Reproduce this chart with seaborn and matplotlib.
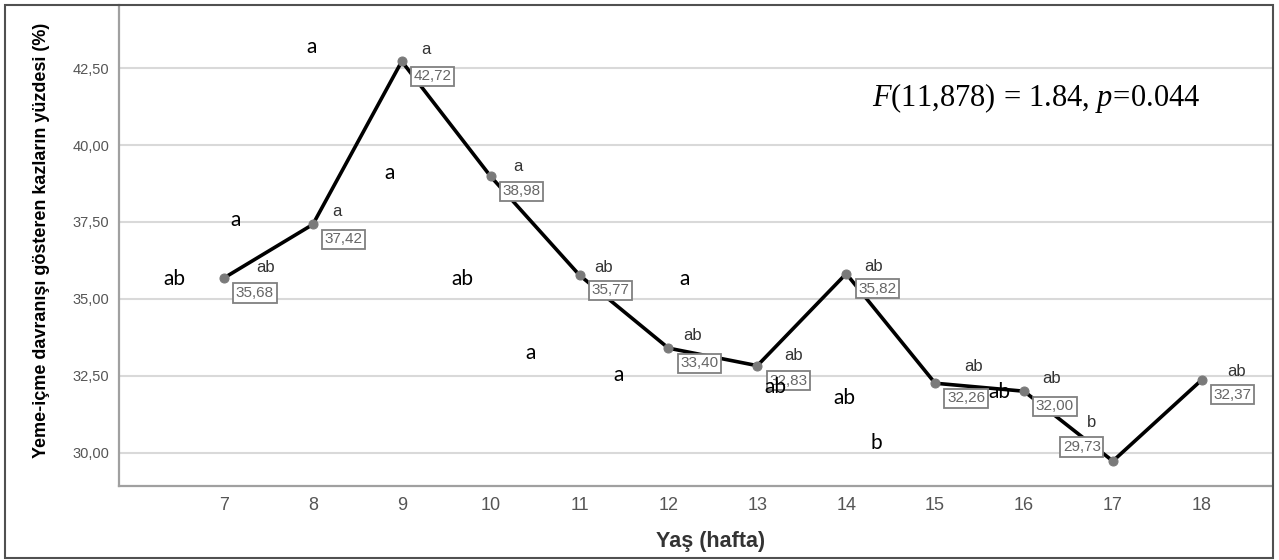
import matplotlib
matplotlib.use("Agg")
import matplotlib.pyplot as plt
import seaborn as sns
import pandas as pd
from matplotlib.patches import Rectangle

# ---------------- data ----------------
weeks = [7, 8, 9, 10, 11, 12, 13, 14, 15, 16, 17, 18]
pct = [35.68, 37.42, 42.72, 38.98, 35.77, 33.40, 32.83, 35.82, 32.26, 32.00, 29.73, 32.37]
sig_letters = ["ab", "a", "a", "a", "ab", "ab", "ab", "ab", "ab", "ab", "b", "ab"]
y_ticks = [30.0, 32.5, 35.0, 37.5, 40.0, 42.5]
x_label = "Yaş (hafta)"
y_label = "Yeme-içme davranışı gösteren kazların yüzdesi (%)"
stat_text = r"$F(11{,}878)\,=\,1.84{,}\ p\!=\!0.044$"

# stray letters (in data units)
stray_letters = ["ab", "a", "a", "a", "ab", "a", "a", "a", "ab", "ab", "b", "ab"]
stray_x = [6.437, 7.135, 7.990, 8.868, 9.686, 10.454, 12.187, 11.436, 13.199, 13.979, 14.344, 15.723]
stray_y = [35.634, 37.560, 43.181, 39.097, 35.634, 33.249, 35.634, 32.524, 32.144, 31.767, 30.305, 31.962]

# ---------------- layout (pixel offsets) ----------------
letter_offsets = [(42, 10), (24, 13), (24, 12), (27, 10), (24, 8), (24, 13),
                  (36, 10), (27, 7), (38, 17), (28, 13), (-21, 39), (35, 8)]
value_offsets = [(31, -15)] * 10 + [(-31, 14), (31, -15)]

# ---------------- style ----------------
sns.set_style("white")
plt.rcParams["font.family"] = ["Liberation Sans", "DejaVu Sans"]
plt.rcParams["mathtext.fontset"] = "custom"
plt.rcParams["mathtext.rm"] = "Liberation Serif"
plt.rcParams["mathtext.it"] = "Liberation Serif:italic"

fig = plt.figure(figsize=(12.79, 5.6), dpi=100)
fig.patch.set_facecolor("white")
ax = fig.add_axes([119 / 1279, 74 / 560, 1153 / 1279, 481 / 560])

df = pd.DataFrame({"week": weeks, "pct": pct})
sns.lineplot(data=df, x="week", y="pct", ax=ax, color="black", linewidth=2.6,
             marker="o", markersize=6.5, markerfacecolor="#7a7a7a",
             markeredgecolor="#7a7a7a", zorder=3)

ax.set_xlim(5.819, 18.79)
ax.set_ylim(28.92, 44.55)
ax.set_xticks(weeks)
ax.set_xticklabels([str(w) for w in weeks])
ax.set_yticks(y_ticks)
ax.set_yticklabels([f"{t:.2f}".replace(".", ",") for t in y_ticks])
ax.tick_params(axis="x", length=0, pad=8, labelsize=13, labelcolor="#555555")
ax.tick_params(axis="y", length=0, pad=7, labelsize=10.5, labelcolor="#555555")
ax.yaxis.grid(True, color="#d9d9d9", linewidth=1.5)
ax.xaxis.grid(False)
ax.set_axisbelow(True)

for s in ["top", "right"]:
    ax.spines[s].set_visible(False)
for s in ["left", "bottom"]:
    ax.spines[s].set_color("#a0a0a0")
    ax.spines[s].set_linewidth(1.6)

ax.set_xlabel(x_label, fontsize=15.5, fontweight="bold", color="#333333")
ax.xaxis.set_label_coords(0.5134, -0.0936)
ax.set_ylabel(y_label, fontsize=13, fontweight="bold", color="black")
ax.yaxis.set_label_coords(-0.0598, 0.5114)

# value boxes and significance letters
for w, v, let, lo, vo in zip(weeks, pct, sig_letters, letter_offsets, value_offsets):
    ax.annotate(f"{v:.2f}".replace(".", ","), xy=(w, v), xytext=vo,
                textcoords="offset pixels", ha="center", va="center",
                fontsize=11, color="#666666", zorder=4,
                bbox=dict(boxstyle="square,pad=0.17", facecolor="white",
                          edgecolor="#808080", linewidth=1.3))
    ax.annotate(let, xy=(w, v), xytext=lo, textcoords="offset pixels",
                ha="center", va="center", fontsize=12, color="#333333", zorder=4)

# stray letters
for let, x, y in zip(stray_letters, stray_x, stray_y):
    ax.text(x, y, let, ha="center", va="center", fontsize=15,
            family=["Lato", "DejaVu Sans"], color="black", zorder=6)

ax.text(0.7953, 0.8067, stat_text, transform=ax.transAxes, ha="center",
        va="center", fontsize=22, color="black")

# outer frame
fig.patches.append(Rectangle((5 / 1279, 2 / 560), 1268 / 1279, 553 / 560,
                             transform=fig.transFigure, fill=False,
                             edgecolor="#505050", linewidth=1.5))

fig.savefig("out.png", dpi=100)
